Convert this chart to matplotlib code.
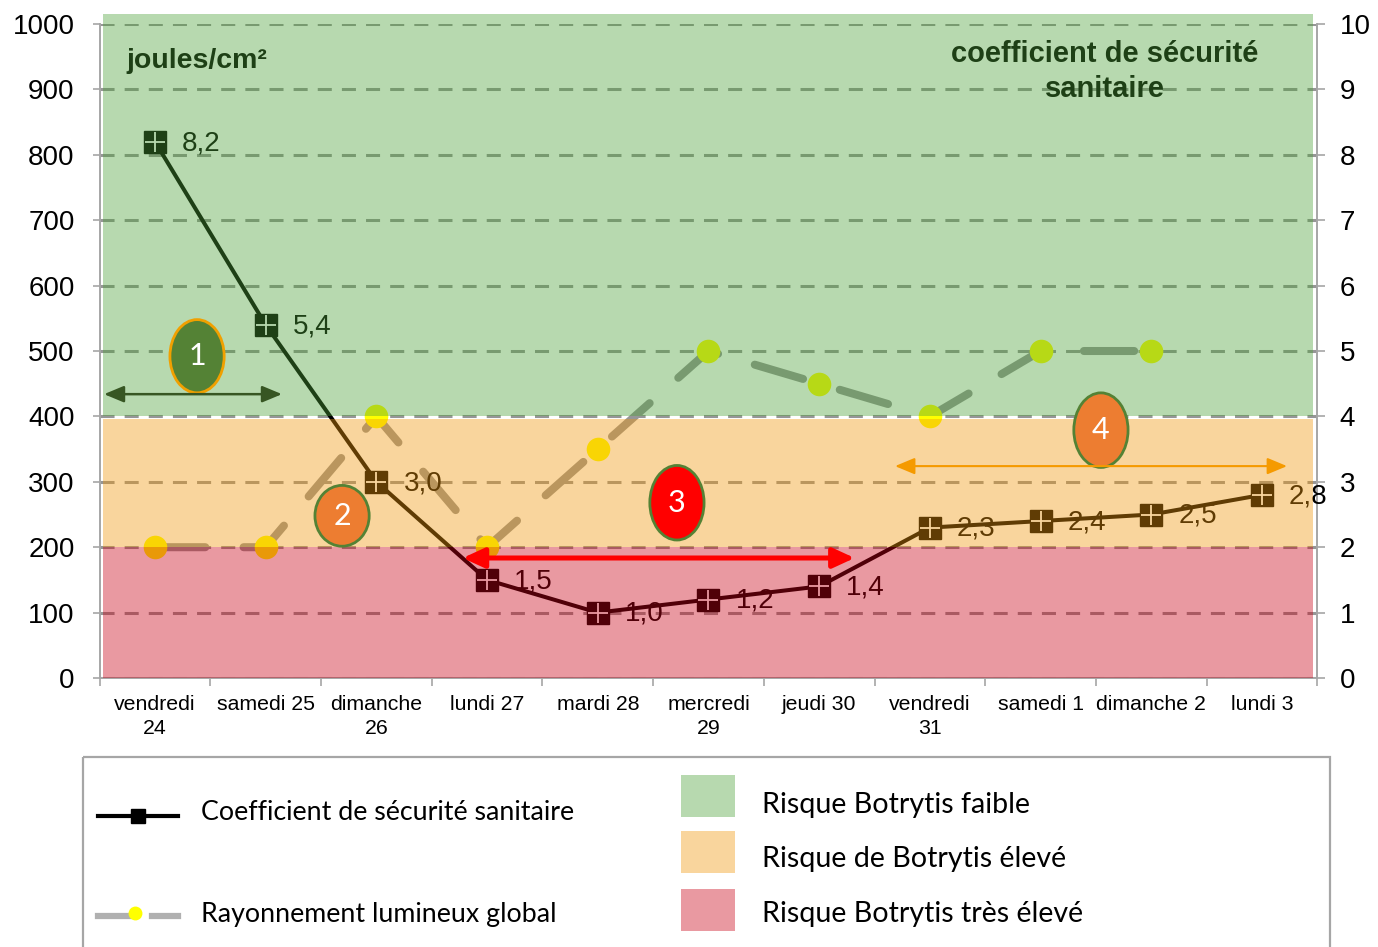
import numpy as np
import matplotlib
matplotlib.use("Agg")
import matplotlib.pyplot as plt
from matplotlib.patches import Ellipse, Rectangle
from matplotlib.lines import Line2D

plt.rcParams['font.family'] = ['Liberation Sans', 'DejaVu Sans']

# ---------------- data ----------------
days = ["vendredi\n24", "samedi 25", "dimanche\n26", "lundi 27", "mardi 28",
        "mercredi\n29", "jeudi 30", "vendredi\n31", "samedi 1", "dimanche 2", "lundi 3"]
coef = [8.2, 5.4, 3.0, 1.5, 1.0, 1.2, 1.4, 2.3, 2.4, 2.5, 2.8]
coef_labels = ["8,2", "5,4", "3,0", "1,5", "1,0", "1,2", "1,4", "2,3", "2,4", "2,5", "2,8"]
rayonnement = [200, 200, 400, 200, 350, 500, 450, 400, 500, 500, np.nan]

# risk bands (coefficient units)
band_low = [0.0, 2.0, 4.0]
band_high = [2.0, 3.965, 10.15]
band_colors = ["#CA0016", "#F2980C", "#4DA239"]
band_names = ["Risque Botrytis très élevé", "Risque de Botrytis élevé", "Risque Botrytis faible"]

# numbered annotations (x in category units, y in coefficient units)
ell_labels = ["1", "2", "3", "4"]
ell_x = [0.38, 1.69, 4.715, 8.545]
ell_y = [4.92, 2.48, 2.68, 3.79]
ell_h = [1.12, 0.93, 1.14, 1.14]
ell_face = ["#548235", "#ED7D31", "#FF0000", "#ED7D31"]
ell_edge = ["#F0A000", "#548235", "#548235", "#548235"]

arr_x0 = [-0.46, 2.78, 6.685]
arr_x1 = [1.147, 6.32, 10.226]
arr_y = [4.34, 1.835, 3.24]
arr_col = ["#375623", "#FF0000", "#F59A00"]
arr_lw = [1.8, 3.6, 1.5]

# ---------------- figure ----------------
fig = plt.figure(figsize=(13.78, 9.47), dpi=100)
ax = fig.add_axes([0.0723, 0.28405, 0.8837, 0.6906])
ax2 = ax.twinx()

x = np.arange(len(days))
gray = "#a6a6a6"

ax.set_xlim(-0.5, 10.5)
ax.set_ylim(0, 1000)
ax2.set_ylim(0, 10)

ax.set_yticks(np.arange(0, 1001, 100))
ax2.set_yticks(np.arange(0, 11, 1))
ax.yaxis.grid(True, color="#969696", lw=2.2, linestyle=(0, (4.6, 3.3)))
ax.set_axisbelow(True)

# solar radiation line
ax.plot(x, rayonnement, color="#969696", lw=5.8, ls=(0, (6.25, 4.75)),
        dash_capstyle="round", marker="o", ms=17, mfc="#FFFF00", mec="none", zorder=3)

# coefficient line
ax2.plot(x, coef, color="black", lw=2.9, marker="s", ms=16, mfc="black", mec="black", zorder=3)
ax2.plot(x, coef, ls="none", marker="+", ms=15, mec="white", mew=1.3, zorder=3.1)
for xi, v, lab in zip(x, coef, coef_labels):
    ax2.annotate(lab, (xi, v), xytext=(19.5, -1), textcoords="offset points",
                 ha="left", va="center", fontsize=20, color="black", zorder=4)

# axis titles inside plot (under the bands)
ax2.text(0.38, 9.44, "joules/cm²", ha="center", va="center", fontsize=20.5,
         fontweight="bold", color="black", zorder=4)
ax2.text(8.58, 9.27, "coefficient de sécurité\nsanitaire", ha="center", va="center",
         fontsize=21, fontweight="bold", color="black", zorder=4, linespacing=1.33)

# risk bands drawn on top, semi-transparent
xmin_f = (103 - 99.65) / 1217.7
xmax_f = (1313 - 99.65) / 1217.7
for lo, hi, c in zip(band_low, band_high, band_colors):
    ax2.axhspan(lo, hi, xmin=xmin_f, xmax=xmax_f, facecolor=c, alpha=0.4, lw=0,
                zorder=5, clip_on=False)

# ellipses
for lab, ex, ey, eh, fc, ec in zip(ell_labels, ell_x, ell_y, ell_h, ell_face, ell_edge):
    ax2.add_patch(Ellipse((ex, ey), 0.49, eh, facecolor=fc, edgecolor=ec, lw=2, zorder=7))
    ax2.text(ex, ey, lab, ha="center", va="center", fontsize=22, color="white",
             family=["Lato", "DejaVu Sans"], zorder=8)

# arrows
for x0, x1, y, c, lw in zip(arr_x0, arr_x1, arr_y, arr_col, arr_lw):
    hl = 0.65 if lw > 3 else 0.6
    hw = 0.3 if lw > 3 else 0.25
    ax2.annotate("", xy=(x1, y), xytext=(x0, y),
                 arrowprops=dict(arrowstyle=f"<|-|>,head_length={hl},head_width={hw}",
                                 color=c, lw=lw, shrinkA=0, shrinkB=0, mutation_scale=20),
                 zorder=7)

# axes styling
for a in (ax, ax2):
    a.spines["top"].set_visible(False)
    for s in ("left", "right", "bottom"):
        a.spines[s].set_color(gray)
        a.spines[s].set_linewidth(1.2)

ax.tick_params(axis="y", length=5, color=gray, width=1.2, labelsize=20, pad=13)
ax2.tick_params(axis="y", length=6, color=gray, width=1.2, labelsize=20, pad=10)
ax.set_xticks(x)
ax.set_xticklabels(days, fontsize=15.3, linespacing=1.32)
ax.set_xticks(np.arange(-0.5, 11, 1), minor=True)
ax.tick_params(axis="x", which="major", length=0, pad=12.5)
ax.tick_params(axis="x", which="minor", length=6, color=gray, width=1.2)

# ---------------- legend (drawn in figure pixel space) ----------------
lax = fig.add_axes([0, 0, 1, 1])
lax.set_xlim(0, 1378)
lax.set_ylim(947, 0)
lax.axis("off")
lax.add_patch(Rectangle((83, 757), 1247, 230, fill=False, ec=gray, lw=1.6, clip_on=False))
leg_font = ["Lato", "DejaVu Sans"]
lax.add_line(Line2D([98, 178], [816, 816], color="black", lw=3))
lax.add_line(Line2D([138], [816], marker="s", ms=10, color="black"))
lax.text(201, 812, "Coefficient de sécurité sanitaire", fontsize=19.3, family=leg_font,
         ha="left", va="center")
lax.add_line(Line2D([98, 130], [916, 916], color="#b0b0b0", lw=4.5))
lax.add_line(Line2D([152, 178], [916, 916], color="#b0b0b0", lw=4.5))
lax.add_line(Line2D([135], [913], marker="o", ms=10, mfc="#FFFF00", mec="none"))
lax.text(201, 914, "Rayonnement lumineux global", fontsize=19.3, family=leg_font,
         ha="left", va="center")
patch_y = [889, 831, 775]
patch_ty = [914, 859, 805]
for py, ty, c, name in zip(patch_y, patch_ty, band_colors, band_names):
    lax.add_patch(Rectangle((681, py), 54, 42, facecolor=c, alpha=0.4, lw=0))
    lax.text(762, ty, name, fontsize=20.6, family=leg_font, ha="left", va="center")

fig.savefig("out.png", dpi=100)
